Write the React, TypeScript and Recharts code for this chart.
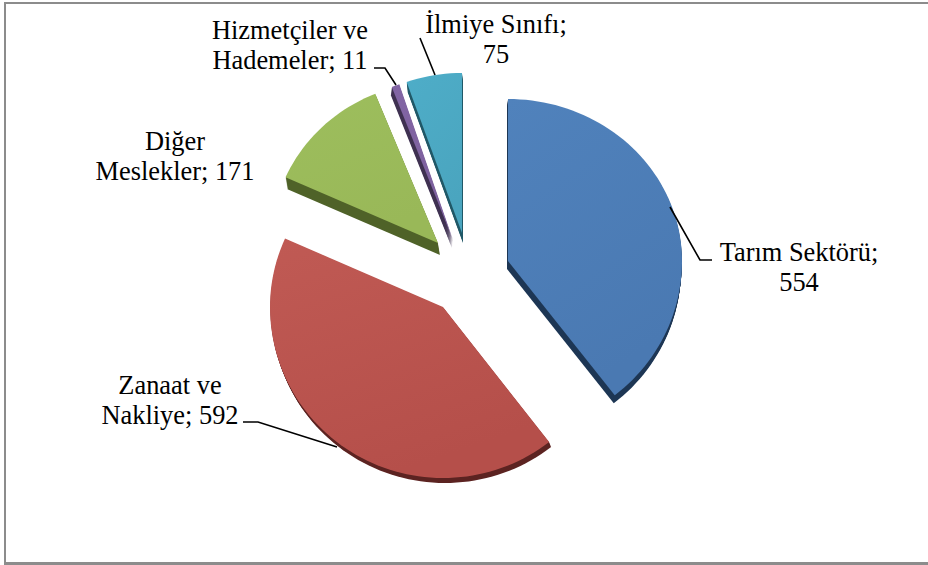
import React from 'react';
import { PieChart, Pie, Cell } from 'recharts';

const categories = ['Tarım Sektörü', 'Zanaat ve Nakliye', 'Diğer Meslekler', 'Hizmetçiler ve Hademeler', 'İlmiye Sınıfı'];
const values = [554, 592, 171, 11, 75];
const labelLines = [
  ['Tarım Sektörü;', '554'],
  ['Zanaat ve', 'Nakliye; 592'],
  ['Diğer', 'Meslekler; 171'],
  ['Hizmetçiler ve', 'Hademeler; 11'],
  ['İlmiye Sınıfı;', '75'],
];

const topColors = ['#5082bc', '#c05a54', '#9dbe5d', '#8265a4', '#4eadc8'];
const bottomColors = ['#4a79b2', '#b54f4a', '#99b858', '#7c609d', '#4aa5bf'];
const sideColors = ['#1d3654', '#5c2321', '#4f6228', '#3f3151', '#205867'];

// exploded slices: apex shift from the pie centre, radii (the 3D view squashes the far side)
const CX = 508;
const CY = 261;
const shifts = [[0, 0], [-65, 46], [-70, -18], [-55, -21], [-46, -28]];
const radiiX = [174, 173, 167, 163, 168];
const radiiTop = [162, 168, 161, 165, 160];
const radiiBottom = [170, 171, 161, 165, 160];
const depths = [[-1, 8], [2, 5], [2, 12], [-1, 8], [1, 10]];

const labelCenters = [[799, 261], [170, 394], [175, 150], [290, 39], [496, 33]];
const leaders = [
  [[670, 207], [700, 260], [712, 260]],
  [[243, 422], [258, 422], [337, 447]],
  [],
  [[374, 68], [385, 68], [396, 85]],
  [[420, 38], [435, 75]],
];

const tableData = categories.map((name, i) => ({ name, value: values[i], idx: i }));

function slicePath(ax: number, ay: number, rx: number, rTop: number, rBottom: number, startAngle: number, endAngle: number) {
  // recharts angles run counter-clockwise from 3 o'clock
  const a0 = 90 - startAngle;
  const a1 = 90 - endAngle;
  let d = `M${ax},${ay}`;
  const steps = Math.max(4, Math.ceil(Math.abs(a1 - a0) / 2));
  for (let s = 0; s <= steps; s++) {
    const t = ((a0 + ((a1 - a0) * s) / steps) * Math.PI) / 180;
    const c = Math.cos(t);
    const ry = c > 0 ? rTop : rBottom;
    d += `L${(ax + rx * Math.sin(t)).toFixed(2)},${(ay - ry * c).toFixed(2)}`;
  }
  return d + 'Z';
}

function Slice3D(props: any) {
  const { cx, cy, startAngle, endAngle, payload } = props;
  const i = payload.idx;
  const ax = cx + shifts[i][0];
  const ay = cy + shifts[i][1];
  const d = slicePath(ax, ay, radiiX[i], radiiTop[i], radiiBottom[i], startAngle, endAngle);
  const [dx, dy] = depths[i];
  const n = Math.abs(dy);
  return (
    <g>
      {Array.from({ length: n }, (_, k) => (
        <path key={k} d={d} fill={sideColors[i]} transform={`translate(${(dx * (k + 1)) / n},${(dy * (k + 1)) / n})`} />
      ))}
      <path d={d} fill={`url(#slice${i})`} />
    </g>
  );
}

function SliceLabel(props: any) {
  const i = props.payload.idx;
  const [x, y] = labelCenters[i];
  const pts = leaders[i];
  return (
    <g>
      {pts.length > 0 && (
        <polyline points={pts.map((p) => p.join(',')).join(' ')} fill="none" stroke="#000" strokeWidth={1.6} />
      )}
      {labelLines[i].map((line, k) => (
        <text
          key={k}
          x={x}
          y={y + k * 30}
          textAnchor="middle"
          fontFamily="'Liberation Serif', serif"
          fontSize={26.4}
          fill="#000"
        >
          {line}
        </text>
      ))}
    </g>
  );
}

export default function App() {
  return (
    <div style={{ position: 'absolute', left: 0, top: 0, width: 928, height: 565, background: '#fff', overflow: 'hidden' }}>
      <div
        style={{
          position: 'absolute',
          left: 4,
          top: 2,
          width: 930,
          height: 558,
          borderLeft: '2px solid #8c8c8c',
          borderTop: '2px solid #8c8c8c',
          borderBottom: '3px solid #8c8c8c',
        }}
      />
      <div style={{ position: 'absolute', left: 0, top: 0 }}>
        <PieChart width={928} height={565} margin={{ top: 0, right: 0, bottom: 0, left: 0 }}>
          <defs>
            {topColors.map((c, i) => (
              <linearGradient key={i} id={`slice${i}`} x1="0" y1="0" x2="0.4" y2="1">
                <stop offset="0%" stopColor={c} />
                <stop offset="100%" stopColor={bottomColors[i]} />
              </linearGradient>
            ))}
          </defs>
          <Pie
            data={tableData}
            dataKey="value"
            nameKey="name"
            cx={CX}
            cy={CY}
            outerRadius={170}
            startAngle={90}
            endAngle={-270}
            paddingAngle={0}
            stroke="none"
            isAnimationActive={false}
            shape={Slice3D}
            label={SliceLabel}
            labelLine={false}
          >
            {tableData.map((d) => (
              <Cell key={d.name} fill={topColors[d.idx]} />
            ))}
          </Pie>
        </PieChart>
      </div>
    </div>
  );
}
